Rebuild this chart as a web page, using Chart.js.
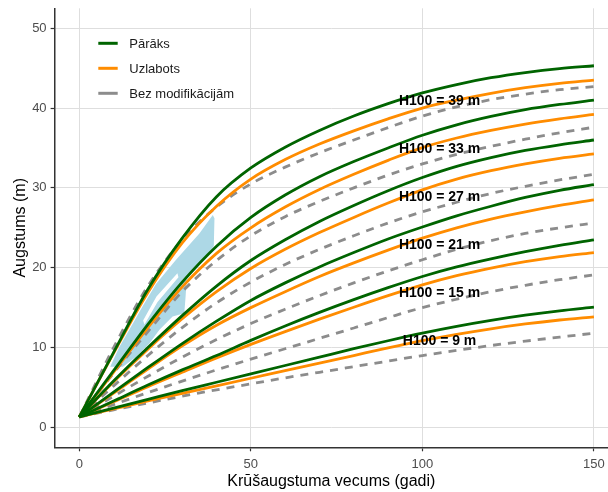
<!DOCTYPE html>
<html>
<head>
<meta charset="utf-8">
<script src="https://cdn.jsdelivr.net/npm/chart.js@4.4.1/dist/chart.umd.min.js"></script>
<style>
  html, body { margin: 0; padding: 0; background: #ffffff; }
  #wrap { width: 608px; height: 492px; }
</style>
</head>
<body>
<div id="wrap"><canvas id="c" width="608" height="492"></canvas></div>
<script>
// Stand age (years) at which every height curve is tabulated
const ages = [0, 10, 20, 30, 40, 50, 60, 70, 80, 90, 100, 110, 120, 130, 140, 150];

// Site index levels (height at age 100), one row per level in the tables below
const siteIndex = [39, 33, 27, 21, 15, 9];

// Heights (m) – "Pārāks" model
const pararaks = [
  [1.3, 9.4, 17.3, 23.7, 28.9, 32.5, 35.1, 37.2, 39.0, 40.55, 41.9, 42.95, 43.8, 44.45, 44.95, 45.3],
  [1.3, 7.1, 12.9, 18.2, 22.7, 26.3, 29.1, 31.4, 33.3, 35.0, 36.6, 37.9, 38.95, 39.8, 40.45, 41.0],
  [1.3, 5.8, 10.0, 14.0, 17.7, 20.9, 23.5, 25.8, 27.8, 29.65, 31.3, 32.7, 33.8, 34.7, 35.4, 36.0],
  [1.3, 4.4, 7.5, 10.5, 13.3, 15.9, 18.1, 20.1, 21.9, 23.6, 25.1, 26.5, 27.7, 28.8, 29.7, 30.4],
  [1.3, 3.3, 5.3, 7.2, 9.0, 10.9, 12.7, 14.4, 16.0, 17.5, 18.9, 20.1, 21.1, 22.0, 22.8, 23.5],
  [1.3, 2.4, 3.5, 4.6, 5.65, 6.7, 7.75, 8.8, 9.85, 10.85, 11.8, 12.65, 13.4, 14.05, 14.6, 15.05]
];

// Heights (m) – "Uzlabots" model
const uzlabots = [
  [1.3, 9.3, 16.9, 23.1, 27.7, 31.1, 33.55, 35.5, 37.15, 38.65, 40.0, 41.0, 41.85, 42.55, 43.1, 43.5],
  [1.3, 6.9, 12.5, 17.6, 21.8, 25.0, 27.6, 29.8, 31.7, 33.45, 35.05, 36.25, 37.2, 38.0, 38.65, 39.2],
  [1.3, 5.7, 9.8, 13.6, 17.0, 19.9, 22.3, 24.4, 26.3, 28.1, 29.75, 31.1, 32.15, 33.0, 33.7, 34.25],
  [1.3, 4.3, 7.3, 10.2, 12.8, 15.0, 17.0, 18.9, 20.6, 22.2, 23.7, 25.0, 26.1, 27.0, 27.8, 28.5],
  [1.3, 3.2, 5.1, 6.9, 8.7, 10.4, 12.0, 13.55, 15.05, 16.5, 17.85, 19.0, 19.95, 20.75, 21.4, 21.9],
  [1.3, 2.3, 3.3, 4.25, 5.2, 6.15, 7.1, 8.05, 9.0, 9.95, 10.85, 11.65, 12.35, 12.95, 13.45, 13.85]
];

// Heights (m) – unmodified model
const bezModifikacijam = [
  [1.3, 10.0, 17.7, 23.5, 27.6, 30.5, 32.6, 34.4, 36.0, 37.55, 39.0, 40.15, 41.05, 41.75, 42.3, 42.7],
  [1.3, 6.8, 12.0, 17.0, 20.9, 24.0, 26.4, 28.3, 30.0, 31.6, 33.0, 34.2, 35.2, 36.1, 36.9, 37.6],
  [1.3, 5.2, 9.0, 12.5, 15.6, 18.2, 20.4, 22.3, 24.0, 25.6, 27.0, 28.2, 29.3, 30.2, 31.0, 31.7],
  [1.3, 3.9, 6.4, 8.8, 11.0, 13.0, 14.8, 16.5, 18.1, 19.6, 21.0, 22.3, 23.4, 24.3, 25.0, 25.6],
  [1.3, 2.85, 4.35, 5.8, 7.2, 8.55, 9.85, 11.15, 12.45, 13.75, 15.0, 16.05, 17.0, 17.8, 18.5, 19.1],
  [1.3, 2.2, 3.05, 3.9, 4.7, 5.45, 6.2, 6.9, 7.6, 8.3, 9.0, 9.65, 10.25, 10.8, 11.3, 11.8]
];

// Outline of the observed-stand area (age, height)
const obsAge    = [9.0, 11.7, 15.6, 18.5, 22.4, 28.2, 35.0, 38.9, 39.4, 39.2, 35.5, 31.3, 31.0, 30.6, 27.2, 23.3, 20.4, 16.5, 12.7];
const obsHeight = [7.6, 10.1, 13.0, 15.2, 18.0, 21.0, 24.3, 26.6, 26.2, 22.7, 20.6, 18.6, 16.5, 14.3, 13.9, 12.2, 10.5, 8.8, 7.6];

// Empty sliver inside that area
const gapAge    = [18.6, 22.5, 28.6, 28.9, 22.8, 19.0];
const gapHeight = [13.4, 16.4, 19.3, 18.8, 15.7, 12.9];

const xTicks = [0, 50, 100, 150];
const yTicks = [0, 10, 20, 30, 40, 50];

const FONT = '"Liberation Sans", Arial, Helvetica, sans-serif';

const models = [
  { label: 'Pārāks',            rows: pararaks,         color: '#006400', dash: [],     order: 1 },
  { label: 'Uzlabots',          rows: uzlabots,         color: '#FF8C00', dash: [],     order: 2 },
  { label: 'Bez modifikācijām', rows: bezModifikacijam, color: '#8C8C8C', dash: [8, 7], order: 3 }
];

const toPoints = (xs, ys) => xs.map((x, i) => ({ x: x, y: ys[i] }));

const datasets = [];

datasets.push({
  label: 'obs',
  data: toPoints(obsAge, obsHeight),
  borderColor: 'rgba(0,0,0,0)',
  borderWidth: 1,
  backgroundColor: '#ADD8E6',
  fill: 'shape',
  tension: 0,
  order: 5
});
datasets.push({
  label: 'gap',
  data: toPoints(gapAge, gapHeight),
  borderColor: 'rgba(0,0,0,0)',
  borderWidth: 1,
  backgroundColor: '#FFFFFF',
  fill: 'shape',
  tension: 0,
  order: 4
});

models.forEach(m => {
  m.rows.forEach((row, k) => {
    datasets.push({
      label: m.label + ' ' + siteIndex[k],
      data: toPoints(ages, row),
      borderColor: m.color,
      borderWidth: 2.8,
      borderDash: m.dash,
      borderCapStyle: 'butt',
      fill: false,
      cubicInterpolationMode: 'monotone',
      order: m.order
    });
  });
});

// Legend drawn inside the plotting area, top-left
const innerLegend = {
  id: 'innerLegend',
  afterDraw(chart) {
    const { ctx, chartArea } = chart;
    ctx.save();
    models.forEach((m, i) => {
      const y = chartArea.top + 35 + i * 25;
      const x0 = chartArea.left + 43.7;
      ctx.beginPath();
      ctx.strokeStyle = m.color;
      ctx.lineWidth = 3;
      ctx.setLineDash([]);
      ctx.moveTo(x0, y);
      ctx.lineTo(x0 + 19.4, y);
      ctx.stroke();
      ctx.fillStyle = '#1A1A1A';
      ctx.font = '13px ' + FONT;
      ctx.textAlign = 'left';
      ctx.textBaseline = 'middle';
      ctx.fillText(m.label, chartArea.left + 74.7, y + 1);
    });
    ctx.restore();
  }
};

// "H100 = .. m" captions placed in data coordinates
const labelAge = 105;
const siteLabels = {
  id: 'siteLabels',
  afterDatasetsDraw(chart) {
    const { ctx, scales } = chart;
    ctx.save();
    ctx.fillStyle = '#000000';
    ctx.font = 'bold 14px ' + FONT;
    ctx.textAlign = 'center';
    ctx.textBaseline = 'middle';
    siteIndex.forEach(s => {
      ctx.fillText('H100 = ' + s + ' m',
        scales.x.getPixelForValue(labelAge),
        scales.y.getPixelForValue(s + 1.85));
    });
    ctx.restore();
  }
};

new Chart(document.getElementById('c'), {
  type: 'line',
  data: { datasets: datasets },
  plugins: [siteLabels, innerLegend],
  options: {
    responsive: false,
    devicePixelRatio: 1,
    animation: false,
    events: [],
    layout: { padding: { top: 8.3, left: 0, right: 0, bottom: 0 } },
    elements: { point: { radius: 0 } },
    plugins: { legend: { display: false }, tooltip: { enabled: false } },
    scales: {
      x: {
        type: 'linear',
        min: -7.2,
        max: 154.1,
        afterBuildTicks: s => { s.ticks = xTicks.map(v => ({ value: v })); },
        afterFit: s => { s.height = 44.7; s.paddingLeft = 0; s.paddingRight = 0; },
        grid: { color: '#DEDEDE', lineWidth: 1, tickColor: '#333333', tickLength: 4, tickWidth: 1.2 },
        border: { color: '#333333', width: 1.5 },
        ticks: { color: '#4D4D4D', font: { family: FONT, size: 13 }, padding: 5, maxRotation: 0, autoSkip: false },
        title: { display: true, text: 'Krūšaugstuma vecums (gadi)', color: '#000000',
                 font: { family: FONT, size: 16 }, padding: { top: 0, bottom: 0.5 } }
      },
      y: {
        type: 'linear',
        min: -2.5,
        max: 52.5,
        afterBuildTicks: s => { s.ticks = yTicks.map(v => ({ value: v })); },
        afterFit: s => { s.width = 54.6; s.paddingTop = 0; s.paddingBottom = 0; },
        grid: { color: '#DEDEDE', lineWidth: 1, tickColor: '#333333', tickLength: 4, tickWidth: 1.2 },
        border: { color: '#333333', width: 1.5 },
        ticks: { color: '#4D4D4D', font: { family: FONT, size: 13 }, padding: 4 },
        title: { display: true, text: 'Augstums (m)', color: '#000000',
                 font: { family: FONT, size: 16 }, padding: { top: 11.4, bottom: 0 } }
      }
    }
  }
});
</script>
</body>
</html>
